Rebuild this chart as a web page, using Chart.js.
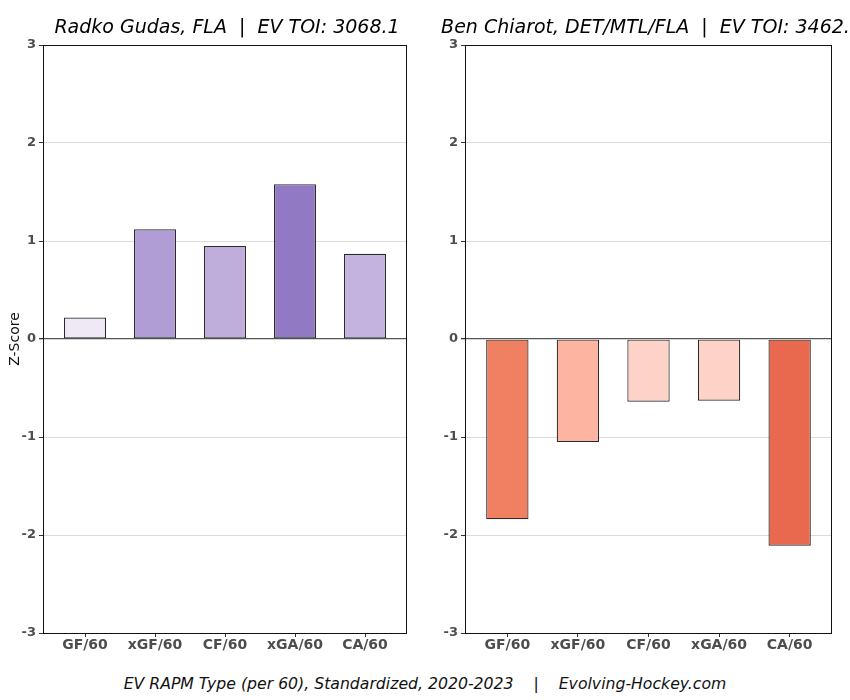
<!DOCTYPE html>
<html>
<head>
<meta charset="utf-8">
<script src="https://cdn.jsdelivr.net/npm/chart.js@4.4.0/dist/chart.umd.min.js"></script>
<style>
  body { margin: 0; background: #fff; font-family: "DejaVu Sans", sans-serif; }
  #wrap { position: relative; width: 850px; height: 700px; overflow: hidden; }
  .pane { position: absolute; top: 0; width: 425px; height: 660px; }
  #footer { position: absolute; left: 0; width: 850px; top: 674px; text-align: center;
            font-style: italic; font-size: 15.7px; white-space: pre; color: #111; }
</style>
</head>
<body>
<div id="wrap">
  <div class="pane" style="left:0"><canvas id="left"></canvas></div>
  <div class="pane" style="left:425px"><canvas id="right"></canvas></div>
  <div id="footer">EV RAPM Type (per 60), Standardized, 2020-2023    |    Evolving-Hockey.com</div>
</div>
<script>
// Data
const categories = ['GF/60', 'xGF/60', 'CF/60', 'xGA/60', 'CA/60'];
const yTicks = [-3, -2, -1, 0, 1, 2, 3];

const gudasTitle = 'Radko Gudas, FLA  |  EV TOI: 3068.1';
const gudasValues = [0.22, 1.12, 0.95, 1.58, 0.87];
const gudasColors = ['#efe8f5', '#b19dd5', '#bfaddb', '#9179c4', '#c3b3de'];

const chiarotTitle = 'Ben Chiarot, DET/MTL/FLA  |  EV TOI: 3462..';
const chiarotValues = [-1.84, -1.05, -0.64, -0.63, -2.11];
const chiarotColors = ['#ef8062', '#fdb4a0', '#fed3c7', '#fed3c7', '#e8694d'];

// frame + title drawn around the chart area
const framePlugin = {
  id: 'frame',
  afterDraw(chart, args, opts) {
    const { ctx, chartArea: a } = chart;
    ctx.save();
    ctx.strokeStyle = '#111';
    ctx.lineWidth = 1;
    ctx.strokeRect(a.left + 0.5, a.top + 0.5, a.right - a.left - 1, a.bottom - a.top);
    ctx.fillStyle = '#000';
    ctx.font = 'italic 19px "DejaVu Sans"';
    ctx.textAlign = 'center';
    ctx.textBaseline = 'alphabetic';
    ctx.fillText(opts.text, (a.left + a.right) / 2 + opts.shift, 33);
    ctx.restore();
  }
};

function makeChart(id, title, values, colors, axisWidth, showYTitle, shift) {
  const tickFont = { family: 'DejaVu Sans', size: 13, weight: 'bold' };
  return new Chart(document.getElementById(id), {
    type: 'bar',
    data: {
      datasets: [{
        data: values.map((v, i) => ({ x: i, y: v })),
        backgroundColor: colors,
        borderColor: '#2b2b2b',
        borderWidth: 1.2,
        borderSkipped: false,
        barPercentage: 0.6,
        categoryPercentage: 1
      }]
    },
    options: {
      responsive: false,
      animation: false,
      devicePixelRatio: 1,
      layout: { padding: { top: 45, right: 18, left: 0, bottom: 0 } },
      plugins: {
        legend: { display: false },
        tooltip: { enabled: false },
        frame: { text: title, shift: shift }
      },
      scales: {
        x: {
          type: 'linear',
          min: -0.6,
          max: 4.6,
          offset: false,
          afterBuildTicks: s => { s.ticks = categories.map((c, i) => ({ value: i })); },
          afterFit: s => { s.height = 27; },
          grid: { offset: false, drawOnChartArea: false, drawTicks: true, tickLength: 4, tickColor: '#333' },
          border: { display: false },
          ticks: {
            callback: v => categories[v],
            color: '#4d4d4d',
            font: { family: 'DejaVu Sans', size: 14, weight: 'bold' },
            padding: 0,
            maxRotation: 0,
            autoSkip: false
          }
        },
        y: {
          min: -3,
          max: 3,
          afterBuildTicks: s => { s.ticks = yTicks.map(v => ({ value: v })); },
          afterFit: s => { s.width = axisWidth; },
          border: { display: false },
          grid: {
            color: c => c.tick && c.tick.value === 0 ? '#555555' : '#dcdcdc',
            lineWidth: c => c.tick && c.tick.value === 0 ? 1.3 : 1,
            tickColor: '#333',
            tickLength: 4
          },
          ticks: {
            color: '#4d4d4d',
            font: tickFont,
            padding: 3
          },
          title: {
            display: showYTitle,
            text: 'Z-Score',
            color: '#111',
            font: { family: 'DejaVu Sans', size: 14 },
            padding: { top: 7, bottom: 0 }
          }
        }
      }
    },
    plugins: [framePlugin]
  });
}

function sizeCanvas(id) {
  const c = document.getElementById(id);
  c.width = 425; c.height = 660;
  c.style.width = '425px'; c.style.height = '660px';
}
sizeCanvas('left');
sizeCanvas('right');

makeChart('left', gudasTitle, gudasValues, gudasColors, 43, true, 2);
makeChart('right', chiarotTitle, chiarotValues, chiarotColors, 40, false, 0);
</script>
</body>
</html>
